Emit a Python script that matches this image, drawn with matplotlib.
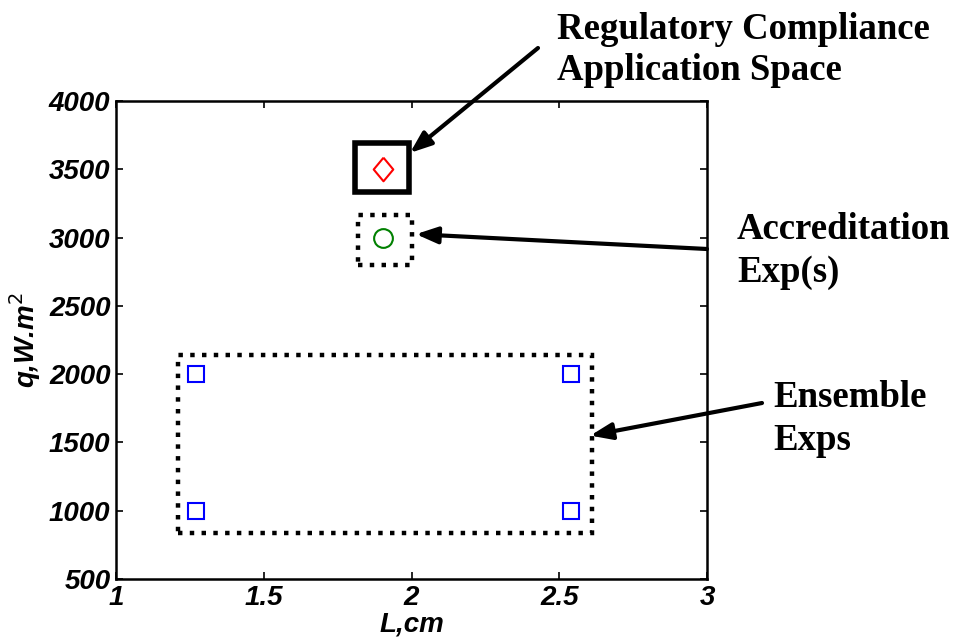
import matplotlib
matplotlib.use('Agg')
import matplotlib.pyplot as plt
from matplotlib.patches import Rectangle

# 数据
ensemble_L = [1.27, 1.27, 2.54, 2.54]
ensemble_q = [1000, 2000, 1000, 2000]
accred_L = [1.905]
accred_q = [3000]
reg_L = [1.905]
reg_q = [3500]

# 方框 (x0, y0, x1, y1)
reg_box = (1.81, 3335, 1.99, 3690)
accred_box = (1.82, 2800, 2.00, 3165)
ensemble_box = (1.21, 840, 2.61, 2140)

xticks = [1, 1.5, 2, 2.5, 3]
xticklabels = ['1', '1.5', '2', '2.5', '3']
yticks = [500, 1000, 1500, 2000, 2500, 3000, 3500, 4000]

tick_font = dict(family='Liberation Sans', weight='bold', style='italic', size=20)
note_font = dict(family='Liberation Serif', weight='bold', size=26.5)

# 菱形标记 (稍宽)
diamond = [(0, 1), (0.83, 0), (0, -1), (-0.83, 0), (0, 1)]

fig = plt.figure(figsize=(9.64, 6.41), dpi=100)
ax = fig.add_axes([116 / 964, 1 - 579 / 641, (707 - 116) / 964, (579 - 101) / 641])

ax.plot(ensemble_L, ensemble_q, 's', mfc='none', mec='blue', ms=12, mew=1.5)
ax.plot(accred_L, accred_q, 'o', mfc='none', mec='green', ms=13.5, mew=1.5)
ax.plot(reg_L, reg_q, marker=diamond, ls='none', mfc='none', mec='red', ms=17, mew=1.5)


def box(b, **kw):
    r = Rectangle((b[0], b[1]), b[2] - b[0], b[3] - b[1], fill=False, **kw)
    ax.add_patch(r)


box(reg_box, lw=4, ec='black', ls='-', joinstyle='miter')
box(accred_box, lw=3.2, ec='black', ls=':')
box(ensemble_box, lw=3.2, ec='black', ls=':')

ax.set_xlim(1, 3)
ax.set_ylim(500, 4000)
ax.set_xticks(xticks)
ax.set_xticklabels(xticklabels, fontdict=tick_font)
ax.set_yticks(yticks)
ax.set_yticklabels([str(v) for v in yticks], fontdict=tick_font)
ax.tick_params(direction='in', length=5, width=1.2, top=True, right=True, pad=4)
ax.tick_params(axis='x', pad=4)
for s in ax.spines.values():
    s.set_linewidth(1.8)

ax.set_xlabel('L,cm', fontdict=tick_font, labelpad=1)
ax.set_ylabel('q,W.m$^2$', fontdict=tick_font, labelpad=4)

arrow = dict(arrowstyle='-|>,head_length=1.3,head_width=0.5', lw=3, color='black',
             shrinkA=0, shrinkB=0)

ax.annotate('', xy=(reg_box[2] + 0.005, reg_box[3] - 70), xytext=(538, 641 - 48),
            textcoords='figure pixels', arrowprops=arrow, annotation_clip=False)
ax.annotate('', xy=(accred_box[2] + 0.015, 3025), xytext=(707, 641 - 249),
            textcoords='figure pixels', arrowprops=arrow, annotation_clip=False)
ax.annotate('', xy=(ensemble_box[2] - 0.005, 1550), xytext=(762, 641 - 403),
            textcoords='figure pixels', arrowprops=arrow, annotation_clip=False)

fig.text(557 / 964, 1 - 12 / 641, 'Regulatory Compliance\nApplication Space',
         va='top', ha='left', linespacing=1.22, **note_font)
fig.text(737 / 964, 1 - 212 / 641, 'Accreditation\nExp(s)',
         va='top', ha='left', linespacing=1.3, **note_font)
fig.text(773 / 964, 1 - 380 / 641, 'Ensemble\nExps',
         va='top', ha='left', linespacing=1.3, **note_font)

fig.savefig('out.png', dpi=100)
